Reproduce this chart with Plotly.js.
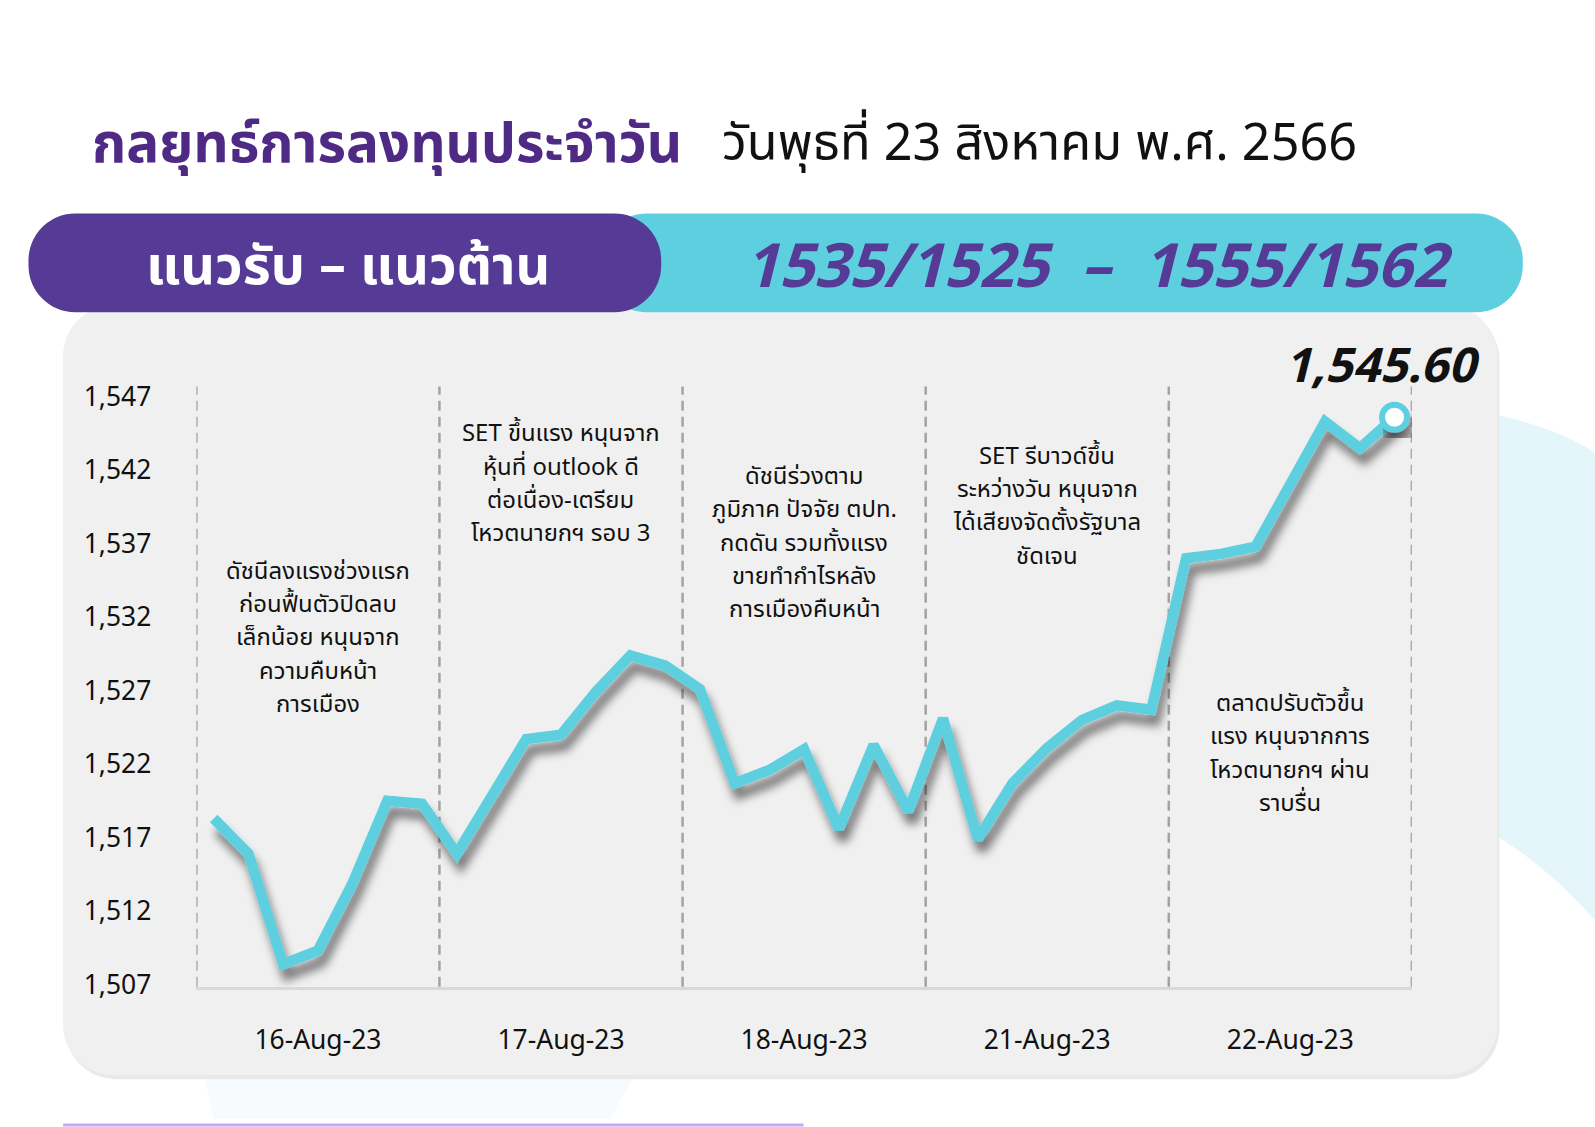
<!DOCTYPE html>
<html>
<head>
<meta charset="utf-8">
<script src="https://cdn.plot.ly/plotly-3.0.1.min.js"></script>
<style>
  html, body { margin: 0; padding: 0; background: #ffffff; }
  #chart { width: 1595px; height: 1127px; }
</style>
</head>
<body>
<div id="chart"></div>
<script>
// ---------------- DATA ----------------
const dayLabels = ['16-Aug-23', '17-Aug-23', '18-Aug-23', '21-Aug-23', '22-Aug-23'];
const pointsPerDay = 7;
const setIndex = [
  1518.3, 1515.9, 1508.4, 1509.3, 1513.9, 1519.5, 1519.3,
  1515.9, 1519.8, 1523.7, 1524.0, 1526.9, 1529.4, 1528.7,
  1527.1, 1520.7, 1521.6, 1523.0, 1517.6, 1523.3, 1518.8,
  1525.1, 1516.9, 1520.7, 1523.1, 1525.0, 1526.0, 1525.7,
  1536.0, 1536.3, 1536.8, 1540.9, 1545.3, 1543.5, 1545.6
];
const lastCloseLabel = '1,545.60';
const yTicks = [1507, 1512, 1517, 1522, 1527, 1532, 1537, 1542, 1547];
const dayNotes = [
  ['ดัชนีลงแรงช่วงแรก', 'ก่อนฟื้นตัวปิดลบ', 'เล็กน้อย หนุนจาก', 'ความคืบหน้า', 'การเมือง'],
  ['SET ขึ้นแรง หนุนจาก', 'หุ้นที่ outlook ดี', 'ต่อเนื่อง-เตรียม', 'โหวตนายกฯ รอบ 3'],
  ['ดัชนีร่วงตาม', 'ภูมิภาค ปัจจัย ตปท.', 'กดดัน รวมทั้งแรง', 'ขายทำกำไรหลัง', 'การเมืองคืบหน้า'],
  ['SET รีบาวด์ขึ้น', 'ระหว่างวัน หนุนจาก', 'ได้เสียงจัดตั้งรัฐบาล', 'ชัดเจน'],
  ['ตลาดปรับตัวขึ้น', 'แรง หนุนจากการ', 'โหวตนายกฯ ผ่าน', 'ราบรื่น']
];
const titleMain = 'กลยุทธ์การลงทุนประจำวัน';
const titleDate = 'วันพุธที่ 23 สิงหาคม พ.ศ. 2566';
const bannerLeft = 'แนวรับ – แนวต้าน';
const bannerRight = '1535/1525  –  1555/1562';

// ---------------- LAYOUT HELPERS ----------------
const W = 1568, H = 1108;           // design grid (scaled to paper)
const S = 1595 / W;                 // font scale
const px = x => x / W;
const py = y => 1 - y / H;
const P = (x, y) => px(x).toFixed(5) + ',' + py(y).toFixed(5);
function roundRect(x0, y0, x1, y1, r) {
  const k = 0.5523 * r;
  return 'M' + P(x0 + r, y0) + ' L' + P(x1 - r, y0) +
    ' C' + P(x1 - r + k, y0) + ' ' + P(x1, y0 + r - k) + ' ' + P(x1, y0 + r) +
    ' L' + P(x1, y1 - r) +
    ' C' + P(x1, y1 - r + k) + ' ' + P(x1 - r + k, y1) + ' ' + P(x1 - r, y1) +
    ' L' + P(x0 + r, y1) +
    ' C' + P(x0 + r - k, y1) + ' ' + P(x0, y1 - r + k) + ' ' + P(x0, y1 - r) +
    ' L' + P(x0, y0 + r) +
    ' C' + P(x0, y0 + r - k) + ' ' + P(x0 + r - k, y0) + ' ' + P(x0 + r, y0) + ' Z';
}

const FONT = '"Noto Sans Thai", "Noto Sans Thai Looped", Loma, Garuda, "Open Sans", sans-serif';
const CYAN = '#5DCFDF';
const PURPLE = '#553A96';
const TITLE_PURPLE = '#4E2A84';

const xDom = [px(193), px(1388)];
const yDom = [py(970), py(380)];
const nDays = dayLabels.length;
const xs = setIndex.map((_, i) => i);
const dayCenters = dayLabels.map((_, d) => d * pointsPerDay + (pointsPerDay - 1) / 2);
const dayEdges = [];
for (let d = 0; d <= nDays; d++) dayEdges.push(d * pointsPerDay - 0.5);

// ---------------- TRACES ----------------
const traces = [
  {
    x: xs, y: setIndex, type: 'scatter', mode: 'lines',
    line: { color: CYAN, width: 10.5, shape: 'linear' },
    hoverinfo: 'skip', showlegend: false
  },
  {
    x: [xs[xs.length - 1]], y: [setIndex[setIndex.length - 1]],
    type: 'scatter', mode: 'markers',
    marker: { size: 25, color: '#ffffff', line: { color: CYAN, width: 6 } },
    hoverinfo: 'skip', showlegend: false
  }
];

// ---------------- SHAPES ----------------
const shapes = [
  { type: 'path', xref: 'paper', yref: 'paper', layer: 'below',
    path: 'M' + P(1460, 405) + ' Q' + P(1530, 420) + ' ' + P(1568, 445) + ' L' + P(1568, 905) +
          ' Q' + P(1520, 850) + ' ' + P(1460, 815) + ' Z',
    fillcolor: '#E4F6F9', line: { width: 0 } },
  { type: 'path', xref: 'paper', yref: 'paper', layer: 'below',
    path: 'M' + P(200, 1055) + ' L' + P(625, 1055) + ' L' + P(600, 1100) + ' L' + P(210, 1100) + ' Z',
    fillcolor: '#F7FBFD', line: { width: 0 } },
  { type: 'path', xref: 'paper', yref: 'paper', layer: 'below',
    path: roundRect(64, 304, 1474, 1061, 50), fillcolor: '#E9E9E9', line: { width: 0 } },
  { type: 'path', xref: 'paper', yref: 'paper', layer: 'below',
    path: roundRect(62, 300, 1472, 1057, 50), fillcolor: '#F0F0F0', line: { width: 0 } },
  { type: 'path', xref: 'paper', yref: 'paper', layer: 'below',
    path: roundRect(590, 210, 1497, 307, 46), fillcolor: CYAN, line: { width: 0 } },
  { type: 'path', xref: 'paper', yref: 'paper', layer: 'below',
    path: roundRect(28, 210, 650, 307, 46), fillcolor: PURPLE, line: { width: 0 } },
  { type: 'line', xref: 'paper', yref: 'paper', layer: 'below',
    x0: px(62), x1: px(790), y0: py(1106), y1: py(1106),
    line: { color: '#C9A9F3', width: 3 } }
];
dayEdges.forEach(e => {
  shapes.push({ type: 'line', xref: 'x', yref: 'paper', layer: 'below',
    x0: e, x1: e, y0: yDom[0], y1: yDom[1],
    line: { color: '#A3A3A3', width: 2.5, dash: '10px,6px' } });
});

// ---------------- ANNOTATIONS ----------------
const annotations = [
  { xref: 'paper', yref: 'paper', x: px(88), y: py(143), xanchor: 'left', yanchor: 'middle',
    text: '<b>' + titleMain + '</b>', showarrow: false,
    font: { family: FONT, size: 54 * S, color: TITLE_PURPLE } },
  { xref: 'paper', yref: 'paper', x: px(708), y: py(143), xanchor: 'left', yanchor: 'middle',
    text: titleDate, showarrow: false,
    font: { family: FONT, size: 49.5 * S, color: '#111111' } },
  { xref: 'paper', yref: 'paper', x: px(342), y: py(263), xanchor: 'center', yanchor: 'middle',
    text: '<b>' + bannerLeft + '</b>', showarrow: false,
    font: { family: FONT, size: 53 * S, color: '#ffffff' } },
  { xref: 'paper', yref: 'paper', x: px(1080), y: py(263), xanchor: 'center', yanchor: 'middle',
    text: '<b><i>' + bannerRight + '</i></b>', showarrow: false,
    font: { family: FONT, size: 60 * S, color: PURPLE } },
  { xref: 'paper', yref: 'paper', x: px(1359), y: py(361), xanchor: 'center', yanchor: 'middle',
    text: '<b><i>' + lastCloseLabel + '</i></b>', showarrow: false,
    font: { family: FONT, size: 47 * S, color: '#111111' } }
];
const noteFirstLineY = [562, 427, 469, 449, 692];
const noteLineGap = 32.8;
dayNotes.forEach((lines, d) => {
  lines.forEach((t, j) => {
    annotations.push({ xref: 'x', yref: 'paper', x: dayCenters[d],
      y: py(noteFirstLineY[d] + j * noteLineGap),
      xanchor: 'center', yanchor: 'middle', align: 'center', showarrow: false,
      text: t, font: { family: FONT, size: 23.5 * S, color: '#111111' } });
  });
});

const layout = {
  width: 1595, height: 1127,
  margin: { l: 0, r: 0, t: 0, b: 0 },
  paper_bgcolor: '#ffffff', plot_bgcolor: 'rgba(0,0,0,0)',
  showlegend: false,
  xaxis: {
    domain: xDom, range: [dayEdges[0], dayEdges[nDays]],
    tickvals: dayCenters, ticktext: dayLabels, ticks: '',
    showgrid: false, zeroline: false,
    showline: true, linecolor: '#D9D9D9', linewidth: 3,
    ticklabelstandoff: 28,
    tickfont: { family: FONT, size: 26 * S, color: '#111111' }
  },
  yaxis: {
    domain: yDom, range: [1506.86, 1547.69],
    tickvals: yTicks, tickformat: ',d', ticks: '',
    showgrid: false, zeroline: false, showline: false,
    ticklabelstandoff: 44,
    tickfont: { family: FONT, size: 26 * S, color: '#111111' }
  },
  shapes: shapes,
  annotations: annotations
};

Plotly.newPlot('chart', traces, layout, { staticPlot: true, displayModeBar: false }).then(gd => {
  const svg = gd.querySelector('svg.main-svg');
  const ns = 'http://www.w3.org/2000/svg';
  let defs = svg.querySelector('defs');
  if (!defs) { defs = document.createElementNS(ns, 'defs'); svg.insertBefore(defs, svg.firstChild); }
  const f = document.createElementNS(ns, 'filter');
  f.setAttribute('id', 'lineShadow');
  f.setAttribute('x', '-10%'); f.setAttribute('y', '-20%');
  f.setAttribute('width', '130%'); f.setAttribute('height', '150%');
  f.innerHTML = '<feGaussianBlur in="SourceAlpha" stdDeviation="5"/>' +
    '<feOffset dx="4" dy="11" result="ob"/>' +
    '<feComponentTransfer><feFuncA type="linear" slope="0.5"/></feComponentTransfer>' +
    '<feMerge><feMergeNode/><feMergeNode in="SourceGraphic"/></feMerge>';
  defs.appendChild(f);
  gd.querySelectorAll('.scatterlayer .trace').forEach(g => g.setAttribute('filter', 'url(#lineShadow)'));
});
</script>
</body>
</html>
